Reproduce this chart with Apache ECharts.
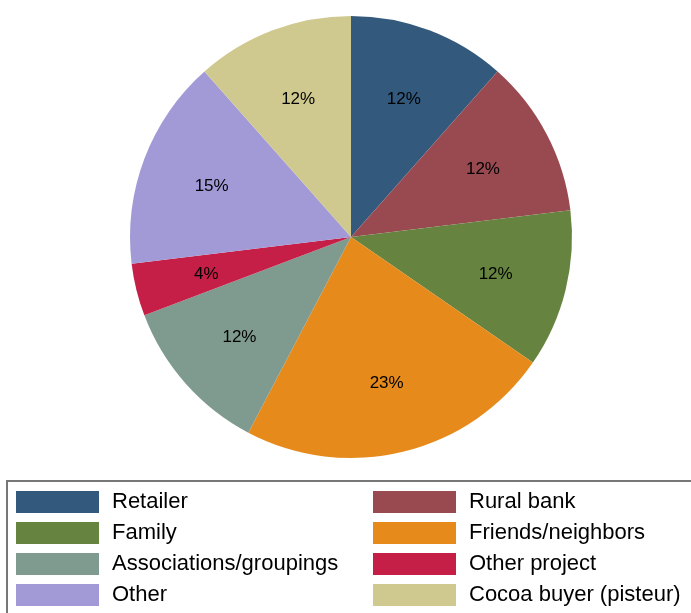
<!DOCTYPE html>
<html>
<head>
<meta charset="utf-8">
<script src="https://cdn.jsdelivr.net/npm/echarts@6/dist/echarts.min.js"></script>
<style>
  html, body { margin: 0; padding: 0; background: #fff; }
  #chart { width: 691px; height: 613px; }
</style>
</head>
<body>
<div id="chart"></div>
<script>
// Sources of credit (number of respondents per source)
const categories = [
  'Retailer', 'Rural bank', 'Family', 'Friends/neighbors',
  'Associations/groupings', 'Other project', 'Other', 'Cocoa buyer (pisteur)'
];
const counts = [3, 3, 3, 6, 3, 1, 4, 3];
const colors = [
  '#335a7d', '#994a51', '#66843f', '#e68b1b',
  '#7f9a8f', '#c51f48', '#a29ad6', '#d0c98f'
];
// two legend columns, filled row by row
const legendLeftColumn = categories.filter((_, i) => i % 2 === 0);
const legendRightColumn = categories.filter((_, i) => i % 2 === 1);

const total = counts.reduce((a, b) => a + b, 0);
const pieData = categories.map((name, i) => ({ name, value: counts[i] }));
const fontFamily = '"Liberation Sans", Arial, Helvetica, sans-serif';

const legendCommon = {
  orient: 'vertical',
  icon: 'rect',
  itemWidth: 83,
  itemHeight: 22,
  itemGap: 9,
  height: 200,
  selectedMode: false,
  textStyle: {
    fontFamily,
    fontSize: 22,
    color: '#000',
    padding: [0, 0, 0, 8]
  }
};

const chart = echarts.init(document.getElementById('chart'), null, { renderer: 'canvas' });
chart.setOption({
  animation: false,
  color: colors,
  legend: [
    Object.assign({}, legendCommon, {
      left: 7,
      top: 481,
      padding: [10, 600, 40, 9],
      borderColor: '#777777',
      borderWidth: 2,
      borderRadius: 0,
      data: legendLeftColumn
    }),
    Object.assign({}, legendCommon, {
      left: 373,
      top: 491,
      padding: 0,
      data: legendRightColumn
    })
  ],
  series: [
    {
      type: 'pie',
      center: [351, 237],
      radius: 221,
      startAngle: 90,
      clockwise: true,
      avoidLabelOverlap: false,
      label: { show: false },
      labelLine: { show: false },
      itemStyle: { borderWidth: 0 },
      emphasis: { disabled: true },
      data: pieData
    },
    {
      // label carrier: same slices, transparent, labels at mid-radius 146
      type: 'pie',
      center: [351, 239],
      radius: 292,
      startAngle: 90,
      clockwise: true,
      silent: true,
      avoidLabelOverlap: false,
      itemStyle: { color: 'rgba(0,0,0,0)', borderWidth: 0 },
      label: {
        show: true,
        position: 'inside',
        fontFamily,
        fontSize: 17,
        color: '#000',
        formatter: p => Math.round(p.value / total * 100) + '%'
      },
      labelLine: { show: false },
      emphasis: { disabled: true },
      data: pieData
    }
  ]
});
</script>
</body>
</html>
